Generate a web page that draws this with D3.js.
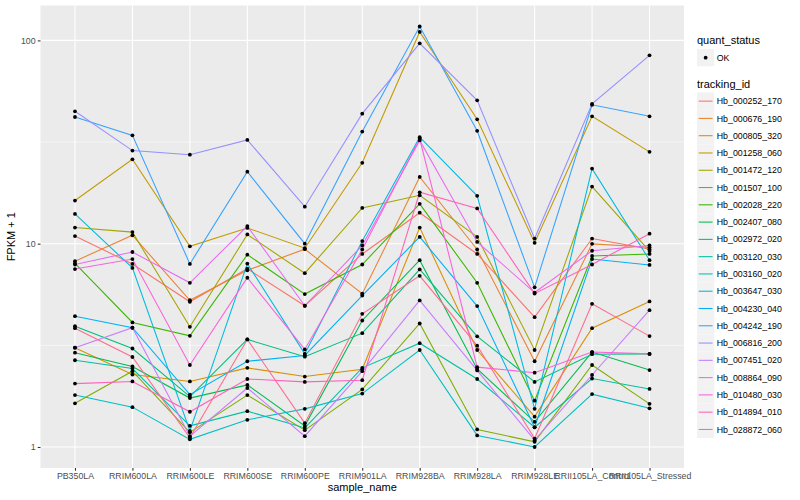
<!DOCTYPE html>
<html>
<head>
<meta charset="utf-8">
<script src="https://cdn.jsdelivr.net/npm/d3@7"></script>
<style>
  body { margin: 0; background: #fff; }
  svg { display: block; }
  text { font-family: "Liberation Sans", Arial, Helvetica, sans-serif; }
</style>
</head>
<body>
<div id="app"></div>
<script>
// samples on the x axis
const samples = ["PB350LA", "RRIM600LA", "RRIM600LE", "RRIM600SE", "RRIM600PE",
  "RRIM901LA", "RRIM928BA", "RRIM928LA", "RRIM928LE", "RRII105LA_Control", "RRII105LA_Stressed"];

const trackingIds = ["Hb_000252_170", "Hb_000676_190", "Hb_000805_320", "Hb_001258_060",
  "Hb_001472_120", "Hb_001507_100", "Hb_002028_220", "Hb_002407_080", "Hb_002972_020",
  "Hb_003120_030", "Hb_003160_020", "Hb_003647_030", "Hb_004230_040", "Hb_004242_190",
  "Hb_006816_200", "Hb_007451_020", "Hb_008864_090", "Hb_010480_030", "Hb_014894_010",
  "Hb_028872_060"];

// FPKM + 1, one array per tracking_id, in sample order
const hb_000252_170 = [10.9, 7.95, 5.18, 7.53, 4.95, 8.9, 14.2, 8.9, 4.35, 10.6, 9.4];
const hb_000676_190 = [8.2, 11.0, 5.27, 7.4, 9.4, 5.68, 21.3, 9.36, 2.64, 9.98, 9.6];
const hb_000805_320 = [3.08, 2.27, 2.10, 2.45, 2.22, 2.41, 12.0, 3.0, 1.41, 3.84, 5.2];
const hb_001258_060 = [16.3, 26, 9.7, 11.95, 9.5, 25, 110, 40.9, 10.1, 42.3, 28.3];
const hb_001472_120 = [12.0, 11.4, 3.9, 11.1, 7.16, 15.0, 17.3, 10.8, 3.0, 19.1, 9.2];
const hb_001507_100 = [1.64, 2.36, 1.18, 1.80, 1.21, 1.92, 4.05, 1.22, 1.06, 2.53, 1.63];
const hb_002028_220 = [8.0, 4.1, 3.52, 8.83, 5.65, 7.9, 15.7, 6.42, 1.69, 8.7, 8.9];
const hb_002407_080 = [2.91, 2.49, 1.74, 2.02, 1.27, 4.19, 8.3, 2.42, 1.33, 2.93, 2.39];
const hb_002972_020 = [3.93, 3.05, 1.77, 3.38, 2.78, 3.63, 7.47, 3.5, 2.09, 2.86, 2.87];
const hb_003120_030 = [2.67, 2.43, 1.27, 1.50, 1.24, 2.45, 3.24, 2.16, 1.25, 2.17, 1.93];
const hb_003160_020 = [1.80, 1.57, 1.09, 1.36, 1.54, 1.83, 3.0, 1.14, 1.0, 1.82, 1.55];
const hb_003647_030 = [14.0, 7.6, 1.2, 7.98, 2.87, 10.3, 33.4, 17.2, 1.54, 23.4, 8.3];
const hb_004230_040 = [4.4, 3.86, 1.81, 2.64, 2.82, 5.56, 10.8, 4.93, 1.25, 8.4, 7.86];
const hb_004242_190 = [42, 34.1, 7.95, 22.6, 10.0, 35.6, 117, 35.9, 6.1, 48.2, 42.3];
const hb_006816_200 = [44.8, 28.7, 27.4, 32.4, 15.2, 43.6, 96.7, 50.7, 10.6, 48.7, 84.4];
const hb_007451_020 = [3.08, 3.86, 1.13, 1.95, 1.13, 2.36, 5.26, 2.38, 1.08, 2.26, 4.71];
const hb_008864_090 = [7.9, 9.1, 6.42, 12.2, 4.95, 9.8, 32.2, 10.2, 5.75, 9.23, 9.8];
const hb_010480_030 = [7.5, 8.4, 2.53, 6.8, 3.02, 9.36, 32.8, 2.47, 2.32, 2.93, 2.87];
const hb_014894_010 = [2.05, 2.10, 1.49, 2.16, 2.09, 2.13, 17.9, 14.9, 5.68, 7.9, 11.2];
const hb_028872_060 = [3.84, 2.77, 1.11, 3.38, 1.31, 4.52, 6.95, 3.15, 1.10, 5.06, 3.51];

const seriesValues = [hb_000252_170, hb_000676_190, hb_000805_320, hb_001258_060,
  hb_001472_120, hb_001507_100, hb_002028_220, hb_002407_080, hb_002972_020,
  hb_003120_030, hb_003160_020, hb_003647_030, hb_004230_040, hb_004242_190,
  hb_006816_200, hb_007451_020, hb_008864_090, hb_010480_030, hb_014894_010,
  hb_028872_060];

const yTicks = [1, 10, 100];
const yMinor = [Math.sqrt(10), Math.sqrt(1000)];

// ggplot default hue palette for 20 levels
const palette = ["#F8766D", "#EA8331", "#D89000", "#C09B00", "#A3A500", "#7CAE00",
  "#39B600", "#00BB4E", "#00BF7D", "#00C1A3", "#00BFC4", "#00BAE0", "#00B0F6",
  "#35A2FF", "#9590FF", "#C77CFF", "#E76BF3", "#FA62DB", "#FF62BC", "#FF6C91"];

const series = trackingIds.map((id, i) => ({
  id: id,
  values: seriesValues[i].map((v, j) => ({ sample: samples[j], fpkm: v }))
}));

const width = 800, height = 500;
const panel = { left: 40.5, right: 684, top: 5.5, bottom: 468 };

const svg = d3.select("#app").append("svg")
  .attr("width", width).attr("height", height);

svg.append("rect").attr("width", width).attr("height", height).attr("fill", "#fff");

// scales
const xScale = d3.scalePoint()
  .domain(samples)
  .range([panel.left, panel.right])
  .padding(0.6);

const allVals = seriesValues.flat();
const lo = Math.log10(d3.min(allVals)), hi = Math.log10(d3.max(allVals));
const pad = (hi - lo) * 0.05;
const yScale = d3.scaleLog()
  .domain([Math.pow(10, lo - pad), Math.pow(10, hi + pad)])
  .range([panel.bottom, panel.top]);

// panel + grid
svg.append("rect")
  .attr("x", panel.left).attr("y", panel.top)
  .attr("width", panel.right - panel.left)
  .attr("height", panel.bottom - panel.top)
  .attr("fill", "#EBEBEB");

const grid = svg.append("g");
grid.selectAll("line.minor").data(yMinor).join("line")
  .attr("x1", panel.left).attr("x2", panel.right)
  .attr("y1", d => yScale(d)).attr("y2", d => yScale(d))
  .attr("stroke", "#fff").attr("stroke-width", 0.53);
grid.selectAll("line.majy").data(yTicks).join("line")
  .attr("x1", panel.left).attr("x2", panel.right)
  .attr("y1", d => yScale(d)).attr("y2", d => yScale(d))
  .attr("stroke", "#fff").attr("stroke-width", 1.07);
grid.selectAll("line.majx").data(samples).join("line")
  .attr("x1", d => xScale(d)).attr("x2", d => xScale(d))
  .attr("y1", panel.top).attr("y2", panel.bottom)
  .attr("stroke", "#fff").attr("stroke-width", 1.07);

// lines
const line = d3.line()
  .x(d => xScale(d.sample))
  .y(d => yScale(d.fpkm));

svg.append("g").selectAll("path").data(series).join("path")
  .attr("d", d => line(d.values))
  .attr("fill", "none")
  .attr("stroke", (d, i) => palette[i])
  .attr("stroke-width", 1.07);

// points
svg.append("g").selectAll("circle")
  .data(series.flatMap(s => s.values))
  .join("circle")
  .attr("cx", d => xScale(d.sample))
  .attr("cy", d => yScale(d.fpkm))
  .attr("r", 1.9)
  .attr("fill", "#000");

// axes
const yAxis = svg.append("g")
  .attr("transform", `translate(${panel.left},0)`)
  .call(d3.axisLeft(yScale).tickValues(yTicks).tickFormat(d3.format("d")).tickSize(2.75).tickPadding(2.2));
const xAxis = svg.append("g")
  .attr("transform", `translate(0,${panel.bottom})`)
  .call(d3.axisBottom(xScale).tickSize(2.75).tickPadding(2.2));

[xAxis, yAxis].forEach(ax => {
  ax.select(".domain").remove();
  ax.selectAll(".tick line").attr("stroke", "#333333").attr("stroke-width", 1.07);
  ax.selectAll(".tick text").attr("fill", "#4D4D4D")
    .style("font-size", "8.8px")
    .style("font-family", "'Liberation Sans', Arial, Helvetica, sans-serif");
});

// axis titles
svg.append("text")
  .attr("x", (panel.left + panel.right) / 2).attr("y", 491)
  .attr("text-anchor", "middle").attr("font-size", 11).attr("fill", "#000")
  .text("sample_name");
svg.append("text")
  .attr("transform", `translate(15,${(panel.top + panel.bottom) / 2}) rotate(-90)`)
  .attr("text-anchor", "middle").attr("font-size", 11).attr("fill", "#000")
  .text("FPKM + 1");

// legends
const lg = svg.append("g").attr("transform", "translate(697,0)");
const keySize = 17.28;

lg.append("text").attr("x", 0).attr("y", 44).attr("font-size", 11).text("quant_status");
lg.append("rect").attr("x", 0).attr("y", 49).attr("width", keySize).attr("height", keySize)
  .attr("fill", "#F2F2F2");
lg.append("circle").attr("cx", keySize / 2).attr("cy", 49 + keySize / 2).attr("r", 1.9).attr("fill", "#000");
lg.append("text").attr("x", keySize + 2.5).attr("y", 49 + keySize / 2 + 3.1)
  .attr("font-size", 8.8).text("OK");

lg.append("text").attr("x", 0).attr("y", 88).attr("font-size", 11).text("tracking_id");
const keys = lg.append("g").attr("transform", "translate(0,92.5)")
  .selectAll("g").data(trackingIds).join("g")
  .attr("transform", (d, i) => `translate(0,${i * keySize})`);
keys.append("rect").attr("width", keySize).attr("height", keySize).attr("fill", "#F2F2F2");
keys.append("line")
  .attr("x1", 1.7).attr("x2", keySize - 1.7)
  .attr("y1", keySize / 2).attr("y2", keySize / 2)
  .attr("stroke", (d, i) => palette[i]).attr("stroke-width", 1.07);
keys.append("text").attr("x", keySize + 2.5).attr("y", keySize / 2 + 3.1)
  .attr("font-size", 8.8).text(d => d);
</script>
</body>
</html>
